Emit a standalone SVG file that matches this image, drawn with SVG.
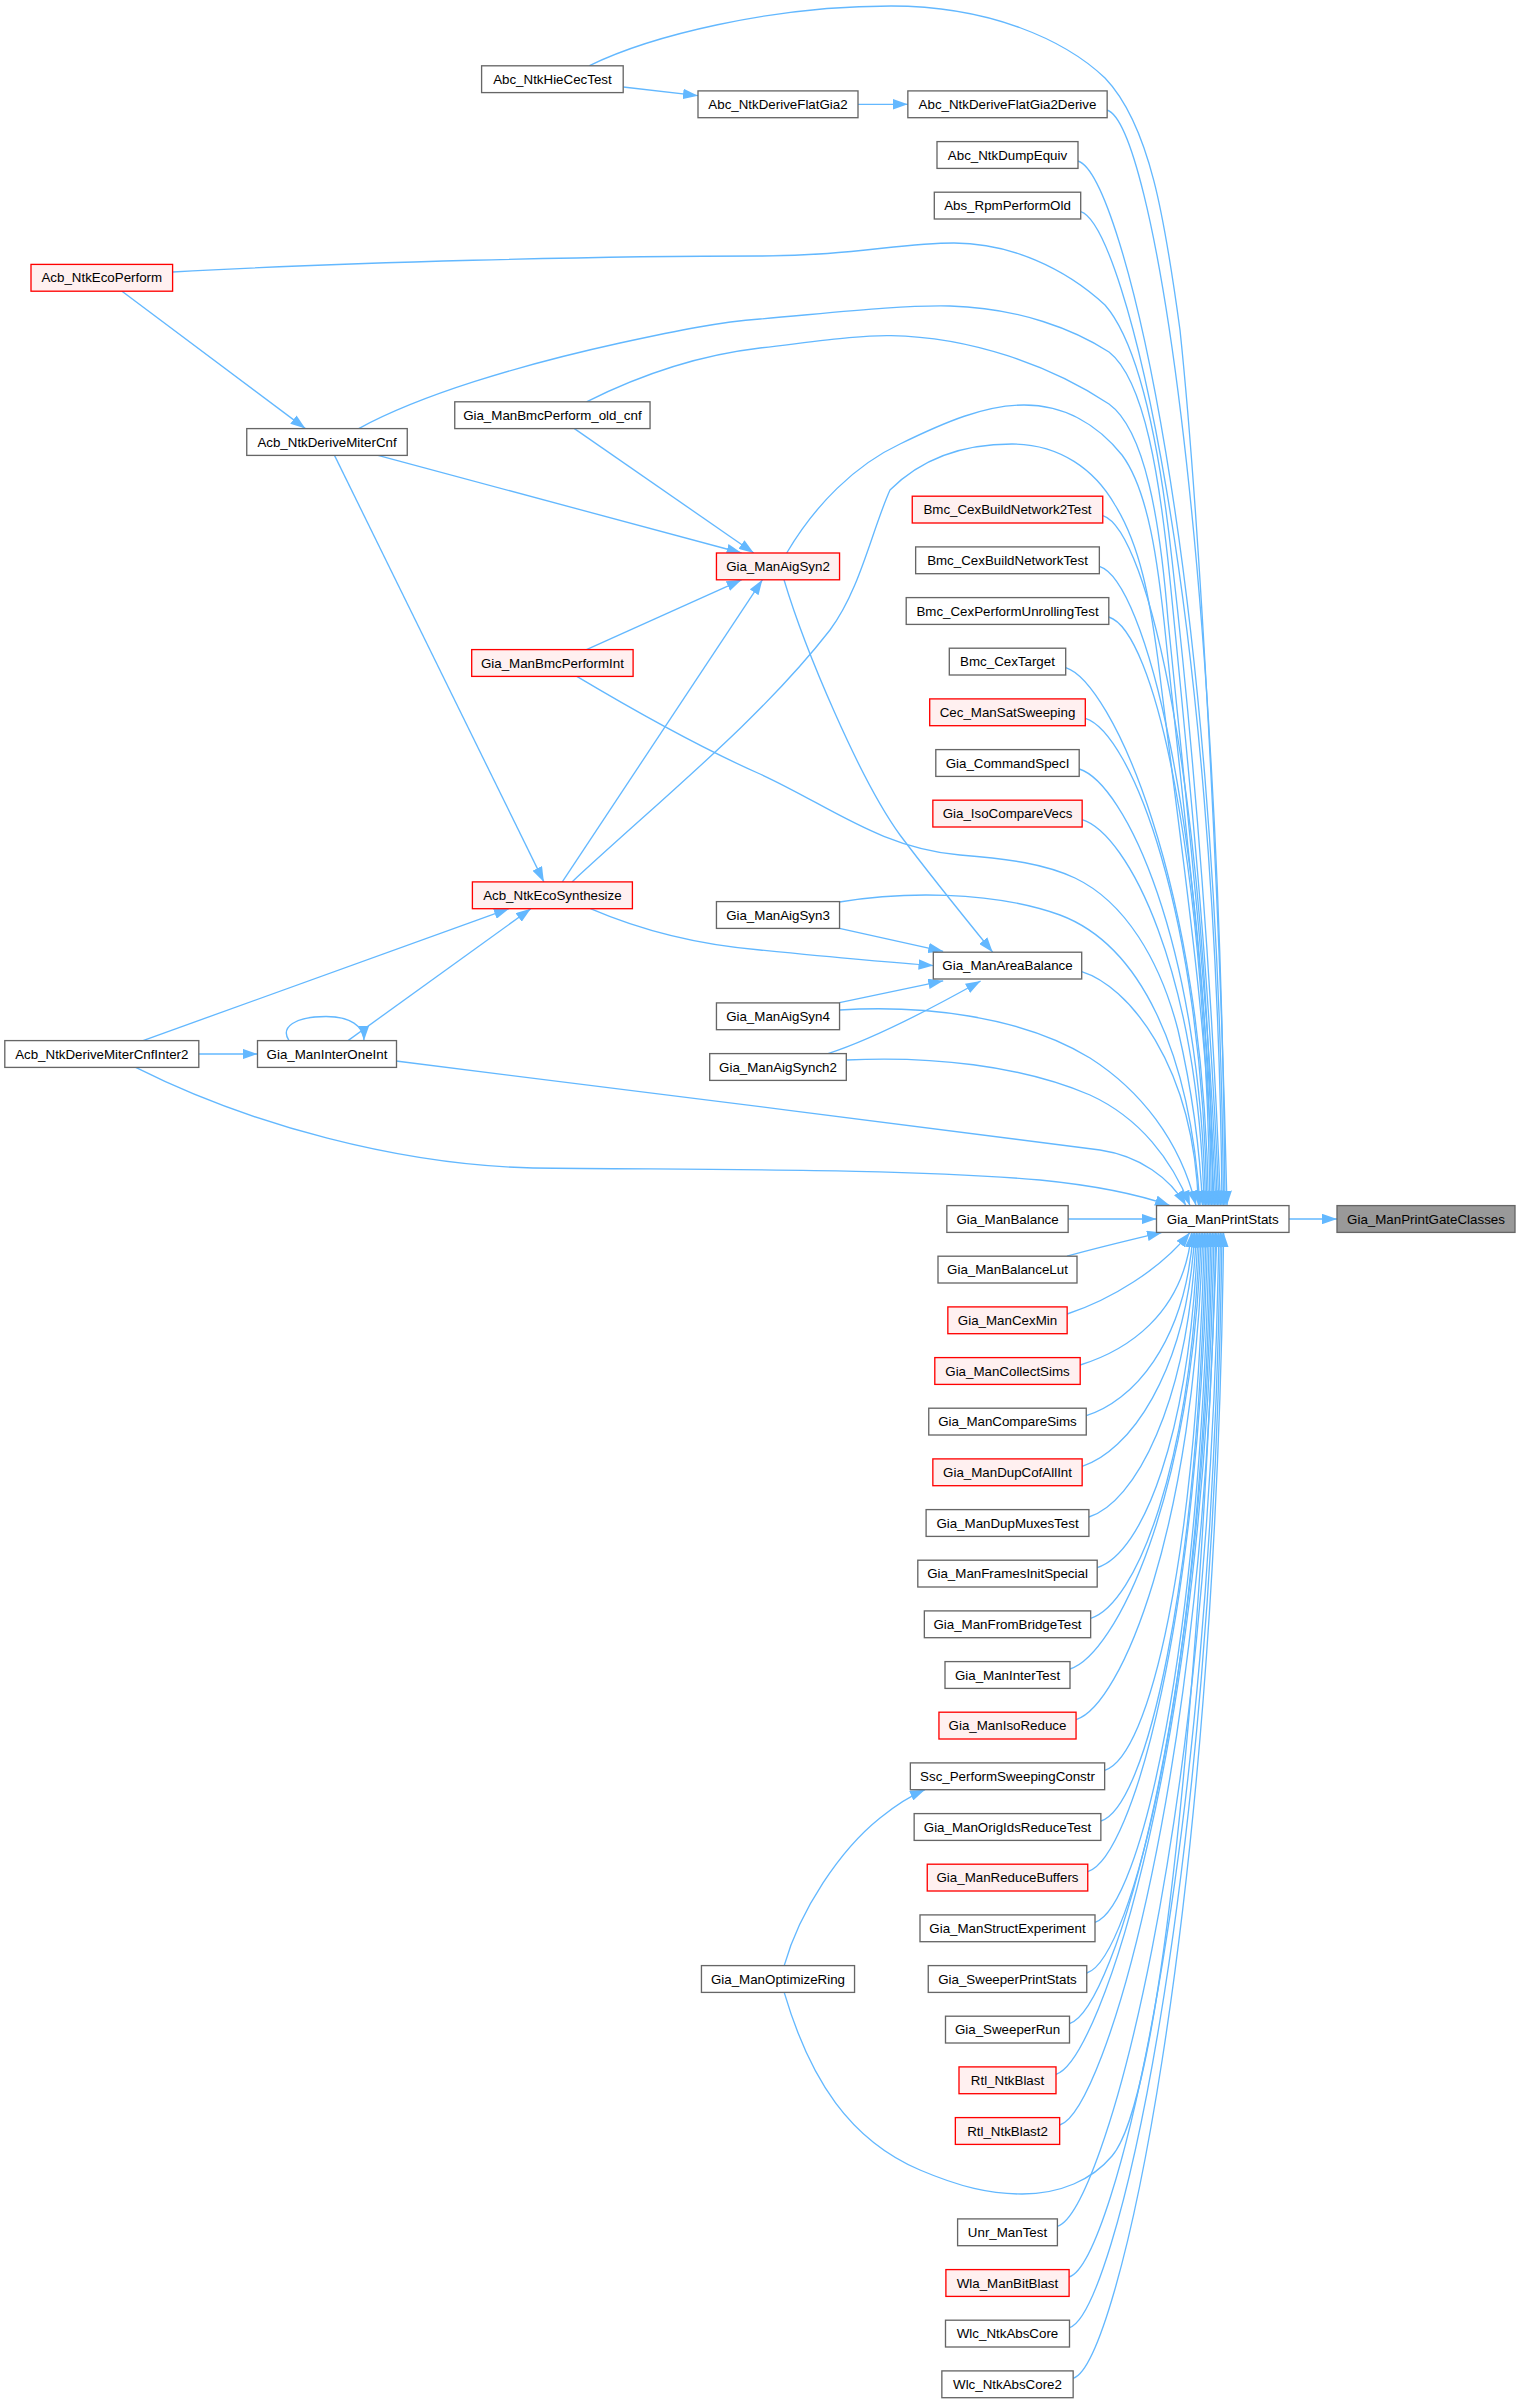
<svg xmlns="http://www.w3.org/2000/svg" width="1516" height="2403" viewBox="0 0 1516 2403">
<style>
.n rect{fill:#ffffff;stroke:#666666;stroke-width:1.33}
.r rect{fill:#fff0f0;stroke:#ff0000;stroke-width:1.33}
.root rect{fill:#999999;stroke:#666666;stroke-width:1.33}
text{font-family:"Liberation Sans",Arial,Helvetica,sans-serif;font-size:13.33px;text-anchor:middle;fill:#000000}
.e path{fill:none;stroke:#63b8ff;stroke-width:1.33;marker-end:url(#ah)}
</style>
<defs>
<marker id="ah" markerUnits="userSpaceOnUse" viewBox="0 0 15 10.5" refX="15" refY="5.25" markerWidth="15" markerHeight="10.5" orient="auto"><path d="M0,0 L15,5.25 L0,10.5 Z" fill="#63b8ff"/></marker>
</defs>
<rect x="0" y="0" width="1516" height="2403" fill="#ffffff"/>
<g id="connectors" class="e">
<path d="M1289,1219 L1337,1219"/>
<path d="M1068.3,1219 L1156.5,1219"/>
<path d="M623.2,87 L698,95.7"/>
<path d="M858,104.3 L907.8,104.3"/>
<path d="M589,65.8 C650,36 770,6 891,6 C990,6 1065,40 1105,78 C1150,125 1165,220 1180,330 C1200,520 1220,900 1227,1205.6"/>
<path d="M172.6,272 C350,262 600,256 760,256 C850,256 900,243 954,243 C1010,243 1065,268 1105,305 C1140,345 1160,450 1172,560 C1195,760 1213,1000 1220.5,1205.6"/>
<path d="M122,291.2 L305.4,428.6"/>
<path d="M358.7,428.6 C420,395 520,365 620,343 C680,330 720,322 760,319 C840,312 900,305 950,306 C1020,308 1075,330 1109,352 C1145,380 1160,480 1170,580 C1192,800 1211,1000 1219,1205.6"/>
<path d="M378,455.4 L741.6,553"/>
<path d="M334.5,455.4 L543.9,881.9"/>
<path d="M586.5,401.8 C640,375 700,355 760,348 C820,341 860,335 891,335.6 C970,337 1050,365 1109,404 C1145,430 1160,520 1168,620 C1188,820 1209,1000 1217.5,1205.6"/>
<path d="M574.4,428.6 L753.8,553"/>
<path d="M786.7,553 C815,505 855,465 900,444 C945,422 985,405 1024,405 C1065,405 1098,425 1122,455 C1148,490 1158,560 1166,640 C1188,850 1207,1000 1216,1205.6"/>
<path d="M586.5,649.6 L741.6,579.8"/>
<path d="M576.8,676.4 C650,720 710,752 760,774 C830,806 880,848 960,855 C1010,859 1045,864 1075,878 C1125,902 1160,960 1178,1030 C1192,1090 1200,1150 1202.5,1205.6"/>
<path d="M562.3,881.9 L762.4,579.8"/>
<path d="M572,881.9 C660,800 760,720 830,630 C860,590 872,530 890,490 C920,460 960,444 1012,444 C1060,444 1095,470 1115,505 C1140,545 1150,600 1158,660 C1185,880 1205,1000 1214.5,1205.6"/>
<path d="M590.4,908.7 C640,930 700,945 760,950 C820,956 880,962 933.5,965.6"/>
<path d="M784,579.8 C805,650 860,780 900,835 C930,875 960,912 992.7,952.2"/>
<path d="M839.5,928.4 L943.2,951.3"/>
<path d="M839.5,902 C900,892 990,890 1060,915 C1140,945 1190,1050 1200,1205.6"/>
<path d="M839.5,1002.6 L943.2,980.8"/>
<path d="M839.5,1010 C920,1005 1020,1015 1090,1058 C1140,1090 1180,1140 1196,1205.6"/>
<path d="M828,1053.6 C870,1040 920,1015 980.6,981"/>
<path d="M846.3,1060 C930,1056 1020,1065 1090,1095 C1140,1118 1172,1160 1190,1205.6"/>
<path d="M348,1040.6 L530.8,908.7"/>
<path d="M289,1040.6 C280,1027 295,1016.5 326,1016.5 C350,1016.5 364,1026 364,1040.6"/>
<path d="M396,1061 C520,1075 900,1125 1100,1150 C1140,1156 1170,1178 1186,1205.6"/>
<path d="M143,1040.6 L509,908.7"/>
<path d="M198.7,1054 L257.5,1054"/>
<path d="M135.7,1067.4 C250,1125 400,1165 533,1168 C700,1170 900,1168 1040,1180 C1100,1186 1140,1195 1170,1205.6"/>
<path d="M784.2,1965.6 C800,1910 840,1850 880,1818 C895,1806 908,1797 925,1789.7"/>
<path d="M784.2,1992.4 C810,2080 850,2140 920,2170 C960,2187 990,2194 1022,2194 C1060,2194 1092,2180 1112,2156 C1160,2100 1200,1700 1217,1232.4"/>
<path d="M1107,110 C1152,124 1220,545 1225,1205.6"/>
<path d="M1078,161 C1123,175 1218.5,575 1223.5,1205.6"/>
<path d="M1080.7,211.6 C1125.7,225.6 1217,605.6 1222,1205.6"/>
<path d="M1102.8,515.6 C1147.8,529.6 1208,788 1213,1205.6"/>
<path d="M1099.4,566.3 C1144.4,580.3 1206.5,818.4 1211.5,1205.6"/>
<path d="M1108.8,617 C1153.8,631 1205,848.8 1210,1205.6"/>
<path d="M1065.7,667.6 C1110.7,681.6 1203.5,879.2 1208.5,1205.6"/>
<path d="M1085.3,718.3 C1130.3,732.3 1202,909.6 1207,1205.6"/>
<path d="M1079.2,769 C1124.2,783 1200.5,940 1205.5,1205.6"/>
<path d="M1082.2,819.6 C1127.2,833.6 1199,970.4 1204,1205.6"/>
<path d="M1081.7,971.6 C1126.7,985.6 1193.5,1061.6 1198.5,1205.6"/>
<path d="M1067,1256.2 C1100,1247 1130,1240 1162,1232.4"/>
<path d="M1067.2,1314 C1110,1300 1160,1270 1190,1232.4"/>
<path d="M1080.2,1365 C1125.2,1351 1183.6,1315.6 1191.6,1232.4"/>
<path d="M1086.3,1415.6 C1131.3,1401.6 1185.2,1345.9 1193.2,1232.4"/>
<path d="M1082.2,1466.3 C1127.2,1452.3 1186.8,1376.3 1194.8,1232.4"/>
<path d="M1088.9,1517 C1133.9,1503 1188.4,1406.8 1196.4,1232.4"/>
<path d="M1097.2,1567.6 C1142.2,1553.6 1190,1437.1 1198,1232.4"/>
<path d="M1090.7,1618.3 C1135.7,1604.3 1191.6,1467.5 1199.6,1232.4"/>
<path d="M1070,1669 C1115,1655 1193.2,1498 1201.2,1232.4"/>
<path d="M1076.1,1719.6 C1121.1,1705.6 1194.8,1528.3 1202.8,1232.4"/>
<path d="M1104.7,1770.3 C1149.7,1756.3 1196.4,1558.7 1204.4,1232.4"/>
<path d="M1100.9,1821 C1145.9,1807 1198,1589.2 1206,1232.4"/>
<path d="M1087.8,1871.6 C1132.8,1857.6 1199.6,1619.5 1207.6,1232.4"/>
<path d="M1095,1922.3 C1140,1908.3 1201.2,1649.9 1209.2,1232.4"/>
<path d="M1086.8,1973 C1131.8,1959 1202.8,1680.4 1210.8,1232.4"/>
<path d="M1069.5,2023.6 C1114.5,2009.6 1204.4,1710.7 1212.4,1232.4"/>
<path d="M1056,2074.3 C1101,2060.3 1206,1741.1 1214,1232.4"/>
<path d="M1059.7,2125 C1104.7,2111 1207.6,1771.6 1215.6,1232.4"/>
<path d="M1057.4,2226.3 C1102.4,2212.3 1210.8,1832.3 1218.8,1232.4"/>
<path d="M1069.1,2277 C1114.1,2263 1212.4,1862.8 1220.4,1232.4"/>
<path d="M1069.5,2327.6 C1114.5,2313.6 1214,1893.1 1222,1232.4"/>
<path d="M1073.2,2378.3 C1118.2,2364.3 1215.6,1923.5 1223.6,1232.4"/>
</g>
<g id="Gia_ManPrintGateClasses" class="root"><rect x="1337" y="1205.6" width="178" height="26.8"/><text x="1426" y="1223.6">Gia_ManPrintGateClasses</text></g>
<g id="Gia_ManPrintStats" class="n"><rect x="1156.5" y="1205.6" width="132.5" height="26.8"/><text x="1222.75" y="1223.6">Gia_ManPrintStats</text></g>
<g id="Acb_NtkEcoPerform" class="r"><rect x="31" y="264.4" width="141.6" height="26.8"/><text x="101.8" y="282.4">Acb_NtkEcoPerform</text></g>
<g id="Acb_NtkDeriveMiterCnfInter2" class="n"><rect x="4.8" y="1040.6" width="194" height="26.8"/><text x="101.8" y="1058.6">Acb_NtkDeriveMiterCnfInter2</text></g>
<g id="Acb_NtkDeriveMiterCnf" class="n"><rect x="246.75" y="428.6" width="160.5" height="26.8"/><text x="327" y="446.6">Acb_NtkDeriveMiterCnf</text></g>
<g id="Gia_ManInterOneInt" class="n"><rect x="257.5" y="1040.6" width="139" height="26.8"/><text x="327" y="1058.6">Gia_ManInterOneInt</text></g>
<g id="Abc_NtkHieCecTest" class="n"><rect x="481.6" y="65.8" width="141.6" height="26.8"/><text x="552.4" y="83.8">Abc_NtkHieCecTest</text></g>
<g id="Gia_ManBmcPerform_old_cnf" class="n"><rect x="454.75" y="401.8" width="195.3" height="26.8"/><text x="552.4" y="419.8">Gia_ManBmcPerform_old_cnf</text></g>
<g id="Gia_ManBmcPerformInt" class="r"><rect x="471.7" y="649.6" width="161.4" height="26.8"/><text x="552.4" y="667.6">Gia_ManBmcPerformInt</text></g>
<g id="Acb_NtkEcoSynthesize" class="r"><rect x="472.4" y="881.9" width="160" height="26.8"/><text x="552.4" y="899.9">Acb_NtkEcoSynthesize</text></g>
<g id="Abc_NtkDeriveFlatGia2" class="n"><rect x="698" y="90.9" width="160" height="26.8"/><text x="778" y="108.9">Abc_NtkDeriveFlatGia2</text></g>
<g id="Gia_ManAigSyn2" class="r"><rect x="716.45" y="553" width="123.1" height="26.8"/><text x="778" y="571">Gia_ManAigSyn2</text></g>
<g id="Gia_ManAigSyn3" class="n"><rect x="716.45" y="901.6" width="123.1" height="26.8"/><text x="778" y="919.6">Gia_ManAigSyn3</text></g>
<g id="Gia_ManAigSyn4" class="n"><rect x="716.45" y="1002.9" width="123.1" height="26.8"/><text x="778" y="1020.9">Gia_ManAigSyn4</text></g>
<g id="Gia_ManAigSynch2" class="n"><rect x="709.7" y="1053.6" width="136.6" height="26.8"/><text x="778" y="1071.6">Gia_ManAigSynch2</text></g>
<g id="Gia_ManOptimizeRing" class="n"><rect x="701.45" y="1965.6" width="153.1" height="26.8"/><text x="778" y="1983.6">Gia_ManOptimizeRing</text></g>
<g id="Abc_NtkDeriveFlatGia2Derive" class="n"><rect x="907.85" y="90.9" width="199.3" height="26.8"/><text x="1007.5" y="108.9">Abc_NtkDeriveFlatGia2Derive</text></g>
<g id="Abc_NtkDumpEquiv" class="n"><rect x="937" y="141.6" width="141" height="26.8"/><text x="1007.5" y="159.6">Abc_NtkDumpEquiv</text></g>
<g id="Abs_RpmPerformOld" class="n"><rect x="934.3" y="192.2" width="146.4" height="26.8"/><text x="1007.5" y="210.2">Abs_RpmPerformOld</text></g>
<g id="Bmc_CexBuildNetwork2Test" class="r"><rect x="912.25" y="496.2" width="190.5" height="26.8"/><text x="1007.5" y="514.2">Bmc_CexBuildNetwork2Test</text></g>
<g id="Bmc_CexBuildNetworkTest" class="n"><rect x="915.65" y="546.9" width="183.7" height="26.8"/><text x="1007.5" y="564.9">Bmc_CexBuildNetworkTest</text></g>
<g id="Bmc_CexPerformUnrollingTest" class="n"><rect x="906.2" y="597.6" width="202.6" height="26.8"/><text x="1007.5" y="615.6">Bmc_CexPerformUnrollingTest</text></g>
<g id="Bmc_CexTarget" class="n"><rect x="949.3" y="648.2" width="116.4" height="26.8"/><text x="1007.5" y="666.2">Bmc_CexTarget</text></g>
<g id="Cec_ManSatSweeping" class="r"><rect x="929.7" y="698.9" width="155.6" height="26.8"/><text x="1007.5" y="716.9">Cec_ManSatSweeping</text></g>
<g id="Gia_CommandSpecI" class="n"><rect x="935.8" y="749.6" width="143.4" height="26.8"/><text x="1007.5" y="767.6">Gia_CommandSpecI</text></g>
<g id="Gia_IsoCompareVecs" class="r"><rect x="932.85" y="800.2" width="149.3" height="26.8"/><text x="1007.5" y="818.2">Gia_IsoCompareVecs</text></g>
<g id="Gia_ManAreaBalance" class="n"><rect x="933.3" y="952.2" width="148.4" height="26.8"/><text x="1007.5" y="970.2">Gia_ManAreaBalance</text></g>
<g id="Gia_ManBalance" class="n"><rect x="946.85" y="1205.6" width="121.3" height="26.8"/><text x="1007.5" y="1223.6">Gia_ManBalance</text></g>
<g id="Gia_ManBalanceLut" class="n"><rect x="938" y="1256.2" width="139" height="26.8"/><text x="1007.5" y="1274.2">Gia_ManBalanceLut</text></g>
<g id="Gia_ManCexMin" class="r"><rect x="947.85" y="1306.9" width="119.3" height="26.8"/><text x="1007.5" y="1324.9">Gia_ManCexMin</text></g>
<g id="Gia_ManCollectSims" class="r"><rect x="934.8" y="1357.6" width="145.4" height="26.8"/><text x="1007.5" y="1375.6">Gia_ManCollectSims</text></g>
<g id="Gia_ManCompareSims" class="n"><rect x="928.75" y="1408.2" width="157.5" height="26.8"/><text x="1007.5" y="1426.2">Gia_ManCompareSims</text></g>
<g id="Gia_ManDupCofAllInt" class="r"><rect x="932.85" y="1458.9" width="149.3" height="26.8"/><text x="1007.5" y="1476.9">Gia_ManDupCofAllInt</text></g>
<g id="Gia_ManDupMuxesTest" class="n"><rect x="926.1" y="1509.6" width="162.8" height="26.8"/><text x="1007.5" y="1527.6">Gia_ManDupMuxesTest</text></g>
<g id="Gia_ManFramesInitSpecial" class="n"><rect x="917.8" y="1560.2" width="179.4" height="26.8"/><text x="1007.5" y="1578.2">Gia_ManFramesInitSpecial</text></g>
<g id="Gia_ManFromBridgeTest" class="n"><rect x="924.35" y="1610.9" width="166.3" height="26.8"/><text x="1007.5" y="1628.9">Gia_ManFromBridgeTest</text></g>
<g id="Gia_ManInterTest" class="n"><rect x="945" y="1661.6" width="125" height="26.8"/><text x="1007.5" y="1679.6">Gia_ManInterTest</text></g>
<g id="Gia_ManIsoReduce" class="r"><rect x="938.95" y="1712.2" width="137.1" height="26.8"/><text x="1007.5" y="1730.2">Gia_ManIsoReduce</text></g>
<g id="Ssc_PerformSweepingConstr" class="n"><rect x="910.35" y="1762.9" width="194.3" height="26.8"/><text x="1007.5" y="1780.9">Ssc_PerformSweepingConstr</text></g>
<g id="Gia_ManOrigIdsReduceTest" class="n"><rect x="914.15" y="1813.6" width="186.7" height="26.8"/><text x="1007.5" y="1831.6">Gia_ManOrigIdsReduceTest</text></g>
<g id="Gia_ManReduceBuffers" class="r"><rect x="927.25" y="1864.2" width="160.5" height="26.8"/><text x="1007.5" y="1882.2">Gia_ManReduceBuffers</text></g>
<g id="Gia_ManStructExperiment" class="n"><rect x="920" y="1914.9" width="175" height="26.8"/><text x="1007.5" y="1932.9">Gia_ManStructExperiment</text></g>
<g id="Gia_SweeperPrintStats" class="n"><rect x="928.25" y="1965.6" width="158.5" height="26.8"/><text x="1007.5" y="1983.6">Gia_SweeperPrintStats</text></g>
<g id="Gia_SweeperRun" class="n"><rect x="945.5" y="2016.2" width="124" height="26.8"/><text x="1007.5" y="2034.2">Gia_SweeperRun</text></g>
<g id="Rtl_NtkBlast" class="r"><rect x="959" y="2066.9" width="97" height="26.8"/><text x="1007.5" y="2084.9">Rtl_NtkBlast</text></g>
<g id="Rtl_NtkBlast2" class="r"><rect x="955.35" y="2117.6" width="104.3" height="26.8"/><text x="1007.5" y="2135.6">Rtl_NtkBlast2</text></g>
<g id="Unr_ManTest" class="n"><rect x="957.6" y="2218.9" width="99.8" height="26.8"/><text x="1007.5" y="2236.9">Unr_ManTest</text></g>
<g id="Wla_ManBitBlast" class="r"><rect x="945.9" y="2269.6" width="123.2" height="26.8"/><text x="1007.5" y="2287.6">Wla_ManBitBlast</text></g>
<g id="Wlc_NtkAbsCore" class="n"><rect x="945.5" y="2320.2" width="124" height="26.8"/><text x="1007.5" y="2338.2">Wlc_NtkAbsCore</text></g>
<g id="Wlc_NtkAbsCore2" class="n"><rect x="941.85" y="2370.9" width="131.3" height="26.8"/><text x="1007.5" y="2388.9">Wlc_NtkAbsCore2</text></g>
</svg>
